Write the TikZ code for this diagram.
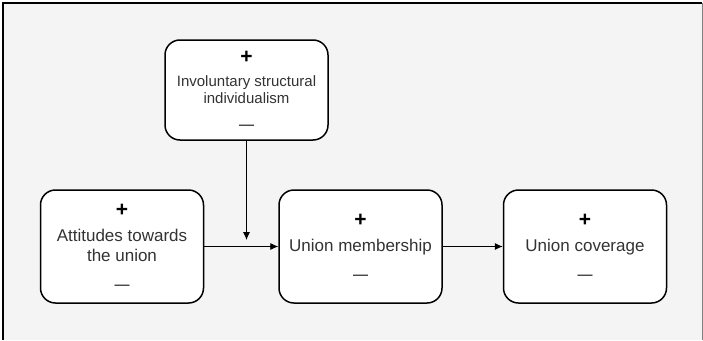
\documentclass[tikz,border=0pt]{standalone}
\usepackage{fontspec}
\setmainfont{Liberation Sans}
\usetikzlibrary{positioning,arrows.meta}

\definecolor{bggray}{HTML}{F4F4F4}
\definecolor{txtgray}{HTML}{333333}

\tikzset{
  factor/.style={draw, line width=1.5pt, rounded corners=15pt, fill=white,
    minimum width=163pt, minimum height=113pt, inner sep=0pt, align=center,
    text=txtgray, font=\fontsize{17}{20}\selectfont},
  link/.style={-{Latex[length=8pt,width=7pt]}, line width=0.9pt}
}
\newcommand{\pl}{\textcolor{black}{\fontsize{21}{20}\selectfont\textbf{+}}}
\newcommand{\mi}{\textcolor{black}{\fontsize{15}{20}\selectfont---}}

\begin{document}
\begin{tikzpicture}[x=1pt,y=-1pt]
    % frame
    \useasboundingbox (0,0) rectangle (703,340);
    \fill[white] (0,0) rectangle (703,340);
    \fill[bggray] (3,3) rectangle (702,340);
    \draw[line width=1.5pt] (3,340)--(3,3)--(702,3);
    \draw[gray,line width=1pt] (702,3)--(702,340);

    % boxes
    \node[factor] (att) at (122,246.5) {\pl\\[5pt]Attitudes towards\\the union\\[8pt]\mi};
    \node[factor, right=74pt of att] (mem) {\pl\\[5pt]Union membership\\[8pt]\mi};
    \node[factor, right=60pt of mem] (cov) {\pl\\[5pt]Union coverage\\[8pt]\mi};
    \node[factor, minimum height=100pt, font=\fontsize{15}{17}\selectfont] (inv) at (246.5,90)
        {\pl\\[6pt]Involuntary structural\\individualism\\[9pt]\mi};

    % arrows
    \coordinate (join) at (246.5,240);
    \draw[link] (inv.south) -- (join);
    \draw[link] (att.east) -- (mem.west);
    \draw[link] (mem.east) -- (cov.west);
\end{tikzpicture}
\end{document}
